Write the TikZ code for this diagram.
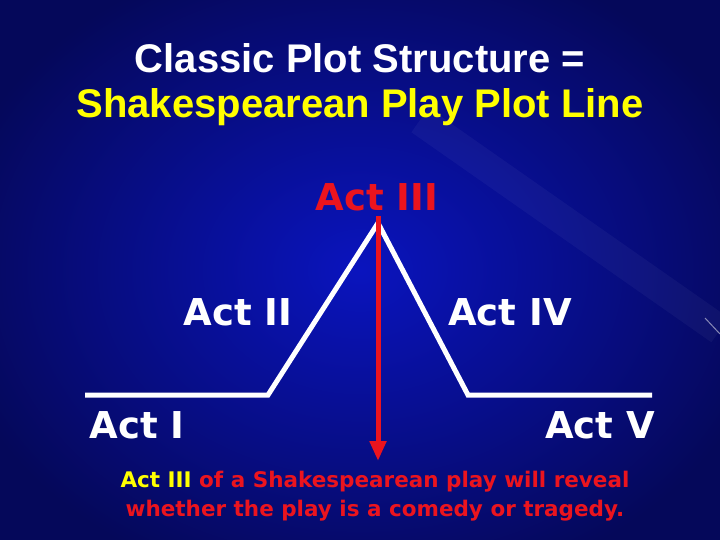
\documentclass[tikz,border=0pt]{standalone}
\usepackage{fontspec}
\setmainfont{Liberation Sans}
\newfontfamily\actfont{DejaVu Sans}
\usetikzlibrary{arrows.meta}
\definecolor{bgin}{RGB}{10,20,190}
\definecolor{bgout}{RGB}{5,8,90}
\definecolor{ttlyel}{RGB}{255,255,0}
\definecolor{actred}{RGB}{235,20,30}
\begin{document}
\begin{tikzpicture}[x=1pt,y=-1pt,
  ttl/.style={font=\fontsize{40}{44}\selectfont\bfseries},
  actlbl/.style={font=\actfont\fontsize{37}{40}\selectfont\bfseries,text=white},
  plotline/.style={draw=white,line width=5pt},
  note/.style={font=\actfont\fontsize{21.5}{29}\selectfont\bfseries,text=actred,align=center}]
\useasboundingbox (0,0) rectangle (720,540);
\shade[inner color=bgin,outer color=bgout] (-60,-60) rectangle (780,600);
\draw[white,opacity=0.04,line width=30pt] (420,120) -- (720,330);
\draw[white,opacity=0.5,line width=1pt] (705,318) -- (720,334);
\node[ttl,text=white] (t1) at (360,58) {Classic Plot Structure =};
\node[ttl,text=ttlyel] (t2) at (360,107) {Shakespearean Play Plot Line};
\coordinate (a) at (85,395);
\coordinate (b) at (268,395);
\coordinate (c) at (378,223);
\coordinate (d) at (468,395);
\coordinate (e) at (652,395);
\draw[plotline,line join=miter] (a) -- (b) -- (c) -- (d) -- (e);
\coordinate (rtop) at (378,216);
\coordinate (rbot) at (378,461);
\draw[actred,line width=5pt,-{Triangle[length=20pt,width=16pt]}] (rtop) -- (rbot);
\node[actlbl,text=actred] (a3) at (377,197) {Act III};
\node[actlbl] (a2) at (238,312) {Act II};
\node[actlbl] (a4) at (510,312) {Act IV};
\node[actlbl] (a1) at (137,425) {Act I};
\node[actlbl] (a5) at (600,425) {Act V};
\node[note] (n) at (375,496) {{\color{ttlyel}Act III} of a Shakespearean play will reveal\\whether the play is a comedy or tragedy.};
\end{tikzpicture}
\end{document}
